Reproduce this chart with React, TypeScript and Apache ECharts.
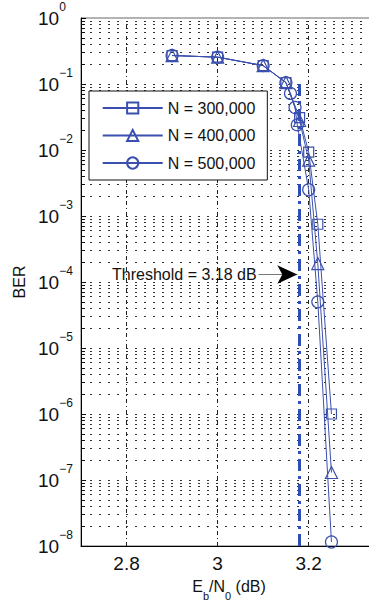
import React, { useEffect, useRef } from "react";
import * as echarts from "echarts";

// Data
const x300 = [2.9, 3.0, 3.1, 3.15, 3.18, 3.2, 3.22, 3.25];
const y300 = [0.27, 0.255, 0.19, 0.105, 0.031, 0.0093, 7.5e-4, 1.0e-6];
const x400 = [2.9, 3.0, 3.1, 3.15, 3.18, 3.2, 3.22, 3.25];
const y400 = [0.27, 0.255, 0.19, 0.105, 0.028, 0.007, 1.9e-4, 1.3e-7];
const x500 = [2.9, 3.0, 3.1, 3.15, 3.16, 3.17, 3.175, 3.2, 3.22, 3.25];
const y500 = [0.27, 0.255, 0.19, 0.105, 0.072, 0.044, 0.024, 0.0025, 5.0e-5, 1.15e-8];
const seriesNames = ["N = 300,000", "N = 400,000", "N = 500,000"];
const xTickLabels = [2.8, 3.0, 3.2];
const thresholdX = 3.18;
const thresholdText = "Threshold = 3.18 dB";
const arrowY = 1.3e-4;
const arrowFromX = 3.09;
const decades = [-1, -2, -3, -4, -5, -6, -7];
const minorMultipliers = [2, 3, 4, 5, 6, 7, 8, 9];
const minorDecades = [-1, -2, -3, -4, -5, -6, -7, -8];

const FONT = "'Liberation Sans', Arial, Helvetica, sans-serif";
const BLUE = "#3b50ae";

export default function App() {
  const ref = useRef<HTMLDivElement>(null);
  useEffect(() => {
    if (!ref.current) return;
    const chart = echarts.init(ref.current, undefined, { renderer: "svg" });
    const pairs = (xs: number[], ys: number[]) => xs.map((x, i) => [x, ys[i]]);

    const minorVals: number[] = [];
    minorDecades.forEach((d) => minorMultipliers.forEach((m) => minorVals.push(m * Math.pow(10, d))));
    const decadeVals = decades.map((d) => Math.pow(10, d));
    const allHoriz = [...decadeVals, ...minorVals];

    const dotted = { color: "#333", width: 1, type: [2, 7] as any };

    const gridLineData: any[] = [
      ...allHoriz.map((v) => ({ yAxis: v, lineStyle: dotted })),
      ...xTickLabels.map((v) => ({ xAxis: v, lineStyle: { color: "#222", width: 1, type: [4, 3, 1, 3] } })),
      ...allHoriz.map((v) => [
        { coord: [2.7, v], lineStyle: { color: "#111", width: 1, type: "solid" } },
        { coord: [2.7087, v] },
      ]),
    ];

    const mkSeries = (name: string, xs: number[], ys: number[], symbol: string, size: number) => ({
      name,
      type: "line",
      data: pairs(xs, ys),
      symbol,
      symbolSize: size,
      showSymbol: true,
      color: BLUE,
      lineStyle: { color: BLUE, width: 1 },
      itemStyle: { color: "rgba(255,255,255,0)", borderColor: BLUE, borderWidth: 1.2 },
      z: 5,
    });

    chart.setOption({
      animation: false,
      grid: {
        left: 81,
        top: 18,
        right: 0,
        bottom: 59,
        show: true,
        borderColor: "#666",
        borderWidth: 1,
        backgroundColor: "transparent",
      },
      legend: {
        data: seriesNames,
        orient: "vertical",
        left: 89,
        top: 91,
        z: 20,
        padding: [9, 12, 9, 12.7],
        itemWidth: 60,
        itemHeight: 14,
        itemGap: 11.5,
        borderColor: "#111",
        borderWidth: 1,
        backgroundColor: "#fff",
        textStyle: { fontSize: 16, color: "#111", fontFamily: FONT },
      },
      xAxis: {
        type: "value",
        min: 2.7,
        max: 3.35,
        interval: 0.1,
        name: "{n|E}{s|b}{n|/N}{s|0}{n| (dB)}",
        nameLocation: "middle",
        nameGap: 25,
        nameTextStyle: {
          rich: {
            n: { fontSize: 16, lineHeight: 30, color: "#111", fontFamily: FONT },
            s: { fontSize: 11, verticalAlign: "bottom", color: "#111", fontFamily: FONT },
          },
        },
        axisLine: { show: true, lineStyle: { color: "#000", width: 1 } },
        axisTick: { show: false },
        splitLine: { show: false },
        axisLabel: {
          margin: 8,
          fontSize: 19,
          color: "#111",
          fontFamily: FONT,
          formatter: (v: number) => {
            const k = Math.round(v * 10);
            return k % 2 === 0 && v > 2.75 && v < 3.25 ? String(k / 10) : "";
          },
        },
      },
      yAxis: {
        type: "log",
        logBase: 10,
        min: 1e-8,
        max: 1,
        splitNumber: 8,
        name: "BER",
        nameLocation: "middle",
        nameGap: 54,
        nameTextStyle: { fontSize: 16, color: "#111", fontFamily: FONT },
        axisLine: { show: true, lineStyle: { color: "#000", width: 1 } },
        axisTick: { show: true, inside: true, length: 5, lineStyle: { color: "#000" } },
        splitLine: { show: false },
        axisLabel: {
          align: "left",
          margin: 43,
          formatter: (v: number) => {
            const e = Math.round(Math.log10(v));
            const es = e < 0 ? "\u2212" + String(-e) : String(e);
            return "{b|10}{s|" + es + "}";
          },
          rich: {
            b: { fontSize: 19, lineHeight: 34, color: "#111", fontFamily: FONT },
            s: { fontSize: 12, verticalAlign: "top", color: "#111", fontFamily: FONT },
          },
        },
      },
      series: [
        {
          name: "grid",
          type: "line",
          data: [],
          silent: true,
          z: 1,
          markLine: {
            z: 1,
            silent: true,
            precision: 15,
            symbol: "none",
            label: { show: false },
            data: gridLineData,
          },
        },
        {
          name: "threshold",
          type: "line",
          data: [],
          silent: true,
          z: 3,
          markLine: {
            z: 3,
            silent: true,
            precision: 15,
            symbol: "none",
            label: { show: false },
            lineStyle: { color: "#2f4db8", width: 3, type: [12, 5, 3, 5] },
            data: [[{ coord: [thresholdX, 0.1] }, { coord: [thresholdX, 1e-8] }]],
          },
        },
        {
          name: "annotation",
          type: "line",
          data: [],
          silent: true,
          z: 6,
          markLine: {
            z: 6,
            silent: true,
            precision: 15,
            data: [
              [
                {
                  coord: [arrowFromX, arrowY],
                  symbol: "none",
                  lineStyle: { color: "#777", width: 1.2, type: "solid" },
                  label: {
                    show: true,
                    position: "start",
                    distance: 2,
                    formatter: thresholdText,
                    fontSize: 16,
                    color: "#111",
                    fontFamily: FONT,
                  },
                },
                { coord: [3.165, arrowY], symbol: "none" },
              ],
              [
                {
                  coord: [3.15, arrowY],
                  symbol: "none",
                  lineStyle: { color: "#000", width: 0.5, type: "solid" },
                  label: { show: false },
                },
                { coord: [3.175, arrowY], symbol: "arrow", symbolSize: [14, 20] },
              ],
            ],
          },
        },
        mkSeries(seriesNames[0], x300, y300, "rect", 10),
        mkSeries(seriesNames[1], x400, y400, "triangle", 12),
        mkSeries(seriesNames[2], x500, y500, "circle", 12),
      ],
    });
    return () => chart.dispose();
  }, []);
  return (
    <div
      ref={ref}
      style={{ position: "fixed", left: 0, top: 0, width: 380, height: 606, background: "#fff" }}
    />
  );
}
